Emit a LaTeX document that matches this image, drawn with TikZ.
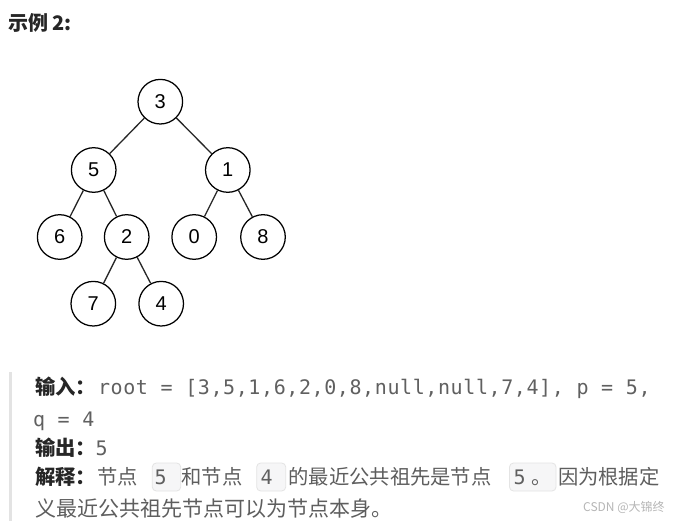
\documentclass[tikz,border=0pt]{standalone}
\usepackage{fontspec}
\setmainfont{Noto Sans CJK SC}
\newfontfamily\cjk{Noto Sans CJK SC}
\newfontfamily\codef{DejaVu Sans Mono}[LetterSpace=3]
\newfontfamily\treef{Liberation Sans}
\definecolor{txt}{HTML}{5E5E5E}
\definecolor{dark}{HTML}{262626}
\definecolor{codec}{HTML}{606060}
\definecolor{codebg}{HTML}{F6F6F7}
\definecolor{codebd}{HTML}{E4E4E4}
\definecolor{barc}{HTML}{E3E3E3}
\definecolor{wm}{HTML}{B6B6B6}
\tikzset{
  tn/.style={circle, draw=black, line width=1.25pt, fill=white, minimum size=44.6pt, inner sep=0pt, font=\treef\fontsize{20}{24}\selectfont},
  edge/.style={line width=1.3pt, draw=black!85},
  t/.style={anchor=base west, inner sep=0pt, outer sep=0pt, text=txt, font=\cjk\fontsize{20.3}{24}\selectfont},
  t5/.style={t, font=\cjk\fontsize{21}{24}\selectfont},
  b/.style={t, text=dark, font=\cjk\bfseries\fontsize{20.3}{24}\selectfont},
  c/.style={t, text=codec, font=\codef\fontsize{20}{24}\selectfont},
  cbox/.style={draw=codebd, fill=codebg, rounded corners=4pt, line width=0.8pt, minimum height=28pt, inner sep=0pt},
  ttl/.style={anchor=base west, inner sep=0pt, text=dark, font=\cjk\bfseries\fontsize{20}{22}\selectfont},
  wmk/.style={anchor=base west, inner sep=0pt, text=wm, font=\cjk\fontsize{12}{14}\selectfont}
}
\begin{document}
\begin{tikzpicture}[x=1pt,y=-1pt]
\fill[white] (0,0) rectangle (674,521);
\path[use as bounding box] (0,0) rectangle (674,521);

% title
\node[ttl] (title) at (8,30.5) {示例 2:};

% tree
\node[tn] (n3) at (160.3,101.7) {3};
\node[tn] (n5) at (93.7,170) {5};
\node[tn] (n1) at (227.8,170) {1};
\node[tn] (n6) at (59.7,237) {6};
\node[tn] (n2) at (126.7,237) {2};
\node[tn] (n0) at (194.2,237) {0};
\node[tn] (n8) at (263,237) {8};
\node[tn] (n7) at (93.3,303.7) {7};
\node[tn] (n4) at (161.2,303.7) {4};
\draw[edge] (n3) -- (n5);
\draw[edge] (n3) -- (n1);
\draw[edge] (n5) -- (n6);
\draw[edge] (n5) -- (n2);
\draw[edge] (n1) -- (n0);
\draw[edge] (n1) -- (n8);
\draw[edge] (n2) -- (n7);
\draw[edge] (n2) -- (n4);

% quote bar
\fill[barc] (8.5,372) rectangle (11.5,521);

% line 1
\node[b] (l1a) at (35,394) {输入：};
\node[c] (l1b) at (98,394) {root = [3,5,1,6,2,0,8,null,null,7,4], p = 5,};
% line 2
\node[c] (l2) at (33,426) {q = 4};
% line 3
\node[b] (l3a) at (35,455) {输出：};
\node[c] (l3b) at (95.5,455) {5};
% line 4
\node[b] (l4a) at (35,484) {解释：};
\node[t] (l4b) at (97,484) {节点};
\node[cbox, minimum width=28.4pt] (bx1) at (166.5,477) {};
\node[c] (l4c) at (154.5,484) {5};
\node[t] (l4d) at (181.5,484) {和节点};
\node[cbox, minimum width=29pt] (bx2) at (271.2,477) {};
\node[c] (l4e) at (260.5,484) {4};
\node[t] (l4f) at (288.5,484) {的最近公共祖先是节点};
\node[cbox, minimum width=46.5pt] (bx3) at (532.75,477) {};
\node[c] (l4g) at (513.5,484) {5};
\node[t] (l4h) at (531,484) {。};
\node[t] (l4i) at (558,484) {因为根据定};
% line 5
\node[t5] (l5) at (35,516) {义最近公共祖先节点可以为节点本身。};

% watermark
\node[wmk] (wm) at (583,511) {CSDN @大锦终};
\end{tikzpicture}
\end{document}
